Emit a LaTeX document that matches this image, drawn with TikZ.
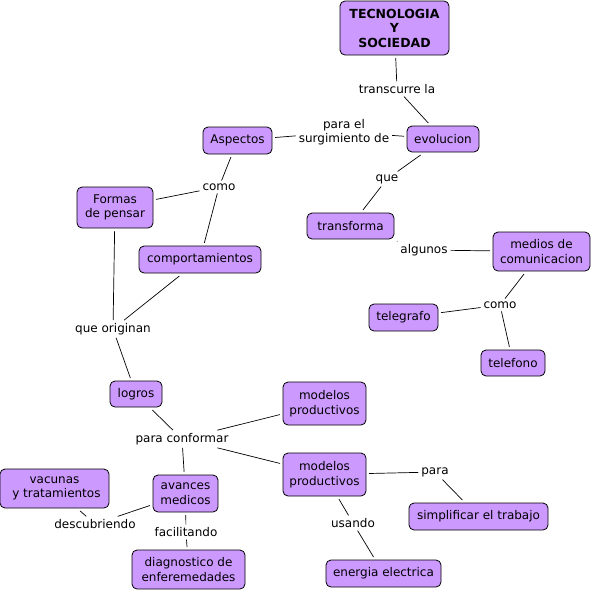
\documentclass[tikz,border=0pt]{standalone}
\usepackage{fontspec}
\setmainfont{DejaVu Sans}
\definecolor{cfill}{RGB}{204,153,255}
\newcommand\fs{\fontsize{12}{14.5}\selectfont}
\tikzset{
  box/.style={draw=black, fill=cfill, rounded corners=5pt, line width=0.8pt, align=center, inner sep=2pt, outer sep=3pt, font=\fs},
  lbl/.style={align=center, inner sep=1pt, outer sep=2pt, font=\fs},
  con/.style={line width=0.7pt}
}
\begin{document}
\begin{tikzpicture}[x=1pt,y=1pt]
\useasboundingbox (0,0) rectangle (593,-592);
% concept boxes
\node[box, minimum width=109pt, minimum height=54pt, font=\fontsize{12.5}{14.5}\selectfont\bfseries] (tys) at (394.5,-28) {TECNOLOGIA\\Y\\SOCIEDAD};
\node[box, minimum width=72pt, minimum height=26pt] (evo) at (443,-139) {evolucion};
\node[box, minimum width=69pt, minimum height=27pt] (asp) at (237.5,-140.5) {Aspectos};
\node[box, minimum width=76pt, minimum height=41pt] (for) at (115,-207.5) {Formas\\de pensar};
\node[box, minimum width=122pt, minimum height=27pt] (com) at (200,-259.5) {comportamientos};
\node[box, minimum width=87pt, minimum height=26pt] (tra) at (350.5,-226) {transforma};
\node[box, minimum width=97pt, minimum height=39pt] (med) at (541.5,-251.5) {medios de\\comunicacion};
\node[box, minimum width=69pt, minimum height=27pt] (tel) at (403.5,-317.5) {telegrafo};
\node[box, minimum width=64pt, minimum height=26pt] (tef) at (513,-363) {telefono};
\node[box, minimum width=52pt, minimum height=26pt] (log) at (136,-394) {logros};
\node[box, minimum width=83pt, minimum height=43pt] (mp1) at (324.5,-403.5) {modelos\\productivos};
\node[box, minimum width=83pt, minimum height=43pt] (mp2) at (324.5,-474.5) {modelos\\productivos};
\node[box, minimum width=109pt, minimum height=39pt] (vac) at (54.5,-488.5) {vacunas\\\ y tratamientos};
\node[box, minimum width=65pt, minimum height=37pt] (ava) at (185.5,-493.5) {avances\\medicos};
\node[box, minimum width=113pt, minimum height=39pt] (dia) at (188.5,-569.5) {diagnostico de\\enferemedades};
\node[box, minimum width=139pt, minimum height=27pt] (sim) at (478.5,-516.5) {simplificar el trabajo};
\node[box, minimum width=115pt, minimum height=27pt] (ene) at (383.5,-573.5) {energia electrica};
% linking phrases
\node[lbl] (l1) at (397,-89) {transcurre la};
\node[lbl] (l2) at (344,-132) {para el\\surgimiento de};
\node[lbl] (l3) at (219,-187) {como};
\node[lbl] (l4) at (387,-179) {que};
\node[lbl] (l5) at (424,-250) {algunos};
\node[lbl] (l6) at (500,-305) {como};
\node[lbl] (l7) at (113,-329) {que originan};
\node[lbl] (l8) at (182,-439) {para conformar};
\node[lbl] (l9) at (435,-472) {para};
\node[lbl] (l10) at (353,-523) {usando};
\node[lbl] (l11) at (95,-524) {descubriendo};
\node[lbl] (l12) at (186,-532) {facilitando};
% connectors
\draw[con] (tys) -- (l1);
\draw[con] (l1) -- (evo);
\draw[con] (evo) -- (l2);
\draw[con] (l2) -- (asp);
\draw[con] (asp) -- (l3);
\draw[con] (l3) -- (for);
\draw[con] (l3) -- (com);
\draw[con] (evo) -- (l4);
\draw[con] (l4) -- (tra);
\draw[con] (tra) -- (l5);
\draw[con] (l5) -- (med);
\draw[con] (med) -- (l6);
\draw[con] (l6) -- (tel);
\draw[con] (l6) -- (tef);
\draw[con] (for) -- (l7);
\draw[con] (com) -- (l7);
\draw[con] (l7) -- (log);
\draw[con] (log) -- (l8);
\draw[con] (l8) -- (mp1);
\draw[con] (l8) -- (mp2);
\draw[con] (l8) -- (ava);
\draw[con] (mp2) -- (l9);
\draw[con] (l9) -- (sim);
\draw[con] (mp2) -- (l10);
\draw[con] (l10) -- (ene);
\draw[con] (ava) -- (l11);
\draw[con] (l11) -- (vac);
\draw[con] (ava) -- (l12);
\draw[con] (l12) -- (dia);
\end{tikzpicture}
\end{document}
